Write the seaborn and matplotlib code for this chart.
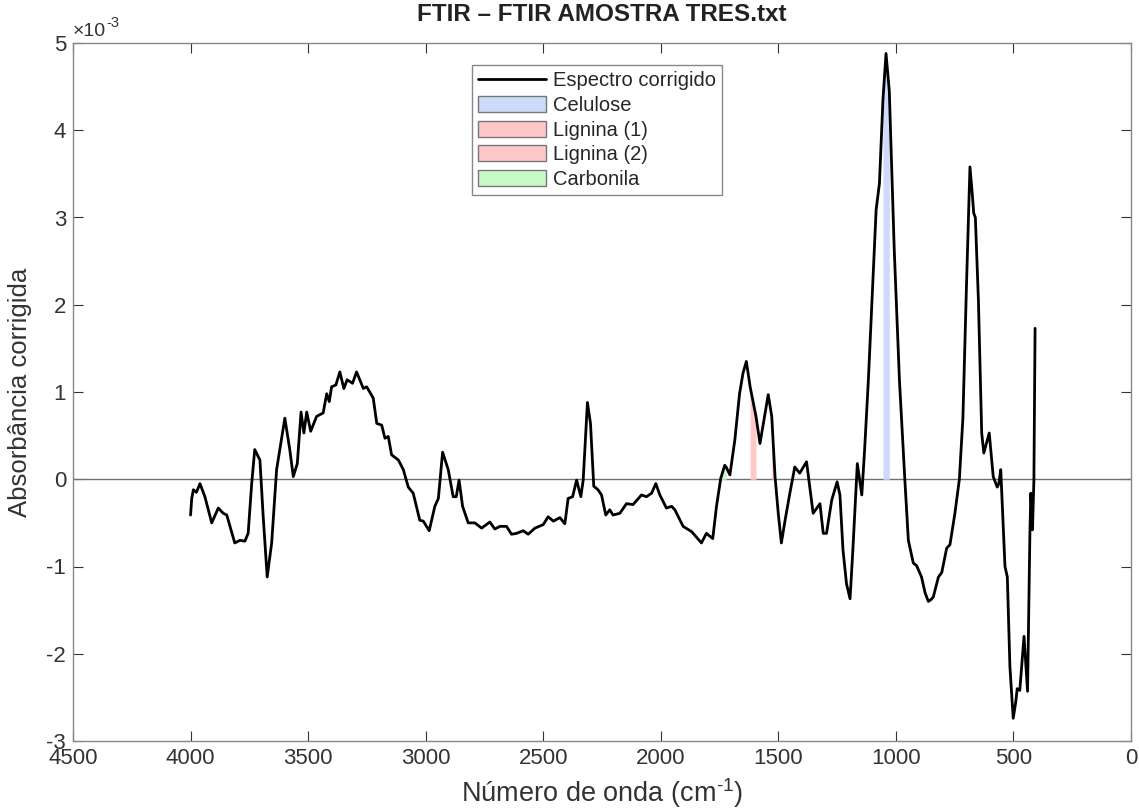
import numpy as np
import pandas as pd
import seaborn as sns
import matplotlib
matplotlib.use('Agg')
import matplotlib.pyplot as plt
from matplotlib.patches import Patch
from matplotlib.lines import Line2D
from matplotlib.ticker import FuncFormatter

# spectrum (absorbance in units of 1e-3)
wavenumber = [4000, 3995, 3988, 3975, 3960, 3939, 3910, 3882, 3861, 3846, 3812, 3790, 3769, 3755,
              3740, 3727, 3705, 3691, 3674, 3655, 3634, 3599, 3578, 3563, 3546, 3530, 3518, 3506,
              3489, 3464, 3436, 3421, 3410, 3400, 3382, 3365, 3348, 3334, 3311, 3294, 3265, 3251,
              3223, 3208, 3187, 3173, 3159, 3145, 3116, 3095, 3074, 3053, 3025, 3010, 2985, 2961,
              2946, 2928, 2904, 2883, 2870, 2858, 2843, 2819, 2791, 2762, 2727, 2706, 2684, 2656,
              2635, 2613, 2585, 2564, 2535, 2500, 2479, 2457, 2429, 2408, 2394, 2375, 2358, 2340,
              2330, 2312, 2299, 2285, 2267, 2252, 2234, 2217, 2203, 2174, 2146, 2118, 2082, 2061,
              2039, 2021, 2004, 1976, 1954, 1940, 1905, 1869, 1827, 1806, 1779, 1763, 1745, 1728,
              1722, 1706, 1685, 1665, 1650, 1636, 1620, 1595, 1578, 1543, 1528, 1514, 1500, 1487,
              1470, 1451, 1430, 1409, 1380, 1352, 1323, 1309, 1295, 1273, 1250, 1238, 1225, 1210,
              1195, 1183, 1164, 1145, 1133, 1117, 1098, 1084, 1070, 1055, 1042, 1028, 1007, 985,
              962, 947, 926, 912, 891, 876, 862, 851, 841, 819, 805, 784, 770, 749, 730, 715, 700,
              685, 676, 669, 662, 649, 635, 626, 603, 586, 569, 562, 554, 536, 526, 515, 501, 490,
              484, 473, 455, 440, 430, 426, 419, 413, 408]
absorbancia = [-0.41, -0.22, -0.12, -0.15, -0.05, -0.20, -0.50, -0.33, -0.39, -0.41, -0.73, -0.70,
               -0.71, -0.62, -0.05, 0.34, 0.22, -0.43, -1.12, -0.73, 0.11, 0.70, 0.34, 0.03, 0.18,
               0.77, 0.53, 0.77, 0.55, 0.72, 0.76, 0.98, 0.89, 1.06, 1.08, 1.23, 1.04, 1.14, 1.10,
               1.23, 1.04, 1.06, 0.93, 0.64, 0.62, 0.47, 0.49, 0.28, 0.22, 0.11, -0.09, -0.16,
               -0.47, -0.48, -0.59, -0.31, -0.22, 0.31, 0.11, -0.20, -0.20, -0.01, -0.31, -0.50,
               -0.50, -0.56, -0.49, -0.57, -0.54, -0.54, -0.63, -0.62, -0.59, -0.63, -0.56, -0.52,
               -0.43, -0.48, -0.44, -0.51, -0.22, -0.20, -0.01, -0.20, -0.01, 0.88, 0.64, -0.08,
               -0.12, -0.18, -0.41, -0.35, -0.41, -0.39, -0.28, -0.29, -0.18, -0.20, -0.16, -0.05,
               -0.18, -0.33, -0.31, -0.35, -0.54, -0.60, -0.73, -0.62, -0.68, -0.31, 0.01, 0.16,
               0.14, 0.05, 0.45, 0.98, 1.22, 1.35, 1.06, 0.72, 0.41, 0.97, 0.72, 0.03, -0.40, -0.73,
               -0.45, -0.16, 0.14, 0.07, 0.20, -0.39, -0.28, -0.62, -0.62, -0.24, -0.03, -0.18,
               -0.81, -1.20, -1.37, -0.81, 0.18, -0.18, 0.34, 1.14, 2.25, 3.09, 3.39, 4.35, 4.88,
               4.45, 2.63, 1.14, 0.0, -0.70, -0.96, -0.99, -1.12, -1.30, -1.40, -1.38, -1.35, -1.12,
               -1.07, -0.79, -0.75, -0.39, 0.0, 0.70, 2.20, 3.58, 3.30, 3.05, 3.00, 2.05, 0.53,
               0.30, 0.53, 0.03, -0.09, -0.05, 0.11, -1.00, -1.12, -2.15, -2.74, -2.55, -2.40,
               -2.42, -1.80, -2.43, -0.62, -0.16, -0.58, -0.01, 1.73]

band_names = ['Celulose', 'Lignina (1)', 'Lignina (2)', 'Carbonila']
band_lo = [1028, 1595, 1514, 1722]
band_hi = [1055, 1620, 1528, 1745]
band_colors = ['#ccdbfa', '#ffc8c8', '#ffc8c8', '#c8f8c8']

sns.set_style('white')
plt.rcParams['font.family'] = ['Liberation Sans', 'DejaVu Sans']
plt.rcParams['axes.unicode_minus'] = False
plt.rcParams['mathtext.fontset'] = 'custom'
plt.rcParams['mathtext.rm'] = 'Liberation Sans'

df = pd.DataFrame({'w': wavenumber, 'a': np.array(absorbancia) * 1e-3})

fig = plt.figure(figsize=(11.39, 8.11), dpi=100)
ax = fig.add_axes([73 / 1139, 1 - 741 / 811, 1058 / 1139, 698 / 811])

ax.axhline(0, color='#707070', lw=1, zorder=1)
for lo, hi, c in zip(band_lo, band_hi, band_colors):
    mask = (df.w >= lo) & (df.w <= hi) & (df.a > 0)
    ax.fill_between(df.w, df.a, 0, where=mask, color=c, lw=0, zorder=2)

sns.lineplot(data=df, x='w', y='a', sort=False, estimator=None, color='black', lw=2,
             ax=ax, zorder=3)

ax.set_xlim(4500, 0)
ax.set_ylim(-3e-3, 5e-3)
ax.set_xticks(np.arange(0, 4501, 500))
ax.set_yticks(np.arange(-3, 6) * 1e-3)
ax.yaxis.set_major_formatter(FuncFormatter(lambda v, p: '%g' % round(v * 1e3, 6)))

# MATLAB style exponent label above the y axis
fig.text(73 / 1139, 1 - 36 / 811, '×10', fontsize=14, color='#333333')
fig.text(106 / 1139, 1 - 27 / 811, '-3', fontsize=10.5, color='#333333')

ax.tick_params(direction='in', bottom=True, left=True, top=True, right=True, length=7.5,
               width=0.8, color='#333333', labelcolor='#333333', labelsize=16, pad=5)
for s in ax.spines.values():
    s.set_color('#888888')
    s.set_linewidth(1)

ax.set_title('FTIR – FTIR AMOSTRA TRES.txt', fontweight='bold', fontsize=17.5,
             color='#222222', pad=16)
ax.set_xlabel(r'Número de onda (cm$^{\text{-1}}$)', fontsize=19.5, color='#333333', labelpad=5)
ax.set_ylabel('Absorbância corrigida', fontsize=18.5, color='#333333', labelpad=10)

handles = [Line2D([0], [0], color='black', lw=2)]
for name, c in zip(band_names, band_colors):
    handles.append(Patch(facecolor=c, edgecolor='#777777', lw=1))
labels = ['Espectro corrigido'] + band_names
leg = ax.legend(handles, labels, loc='upper left', bbox_to_anchor=(0.377, 0.968),
                borderaxespad=0, fontsize=14.5, frameon=True, fancybox=False,
                edgecolor='#888888', framealpha=1, handlelength=3.4, handleheight=0.85,
                handletextpad=0.35, labelspacing=0.28, borderpad=0.3)
leg.get_frame().set_linewidth(1)

fig.savefig('out.png', dpi=100)
